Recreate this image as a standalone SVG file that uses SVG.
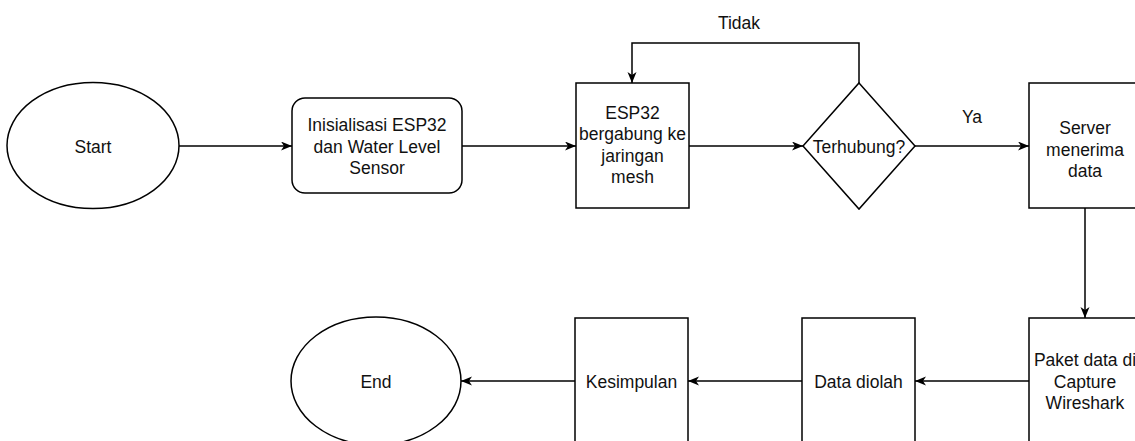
<svg xmlns="http://www.w3.org/2000/svg" width="1135" height="441" viewBox="0 0 1135 441">
  <style>
    .shape { fill: #ffffff; stroke: #000000; stroke-width: 1.5; }
    .edge { fill: none; stroke: #000000; stroke-width: 1.5; }
    .label { font-family: "Liberation Sans", Arial, sans-serif; font-size: 17.5px; fill: #111111; text-anchor: middle; }
  </style>
  <defs>
    <marker id="arrow" markerUnits="userSpaceOnUse" markerWidth="12" markerHeight="10" refX="11" refY="4.5" orient="auto">
      <path d="M0,0 L11,4.5 L0,9 L3,4.5 Z" fill="#000000"/>
    </marker>
  </defs>
  <rect width="1135" height="441" fill="#ffffff"/>

  <g id="connectors">
    <path class="edge" d="M179,146 L292,146" marker-end="url(#arrow)"/>
    <path class="edge" d="M462,146 L576,146" marker-end="url(#arrow)"/>
    <path class="edge" d="M689,146 L803,146" marker-end="url(#arrow)"/>
    <path class="edge" d="M859,83 L859,43 L632,43 L632,83" marker-end="url(#arrow)"/>
    <path class="edge" d="M915,146 L1029,146" marker-end="url(#arrow)"/>
    <path class="edge" d="M1085,208 L1085,318" marker-end="url(#arrow)"/>
    <path class="edge" d="M1029,381 L915,381" marker-end="url(#arrow)"/>
    <path class="edge" d="M802,381 L688,381" marker-end="url(#arrow)"/>
    <path class="edge" d="M575,381 L461,381" marker-end="url(#arrow)"/>
    <text class="label" x="739" y="29">Tidak</text>
    <text class="label" x="972" y="123">Ya</text>
  </g>

  <g id="start">
    <ellipse class="shape" cx="93" cy="145.5" rx="86" ry="63"/>
    <text class="label" x="93" y="152.5">Start</text>
  </g>

  <g id="init">
    <rect class="shape" x="292" y="98" width="170" height="95" rx="13" ry="13"/>
    <text class="label" x="377" y="131">Inisialisasi ESP32</text>
    <text class="label" x="377" y="152.5">dan Water Level</text>
    <text class="label" x="377" y="174">Sensor</text>
  </g>

  <g id="esp32-mesh">
    <rect class="shape" x="576" y="83" width="113" height="125"/>
    <text class="label" x="632.5" y="118.5">ESP32</text>
    <text class="label" x="632.5" y="140">bergabung ke</text>
    <text class="label" x="632.5" y="161.5">jaringan</text>
    <text class="label" x="632.5" y="183">mesh</text>
  </g>

  <g id="terhubung">
    <polygon class="shape" points="859,83 915,146 859,209 803,146"/>
    <text class="label" x="859" y="152.5">Terhubung?</text>
  </g>

  <g id="server">
    <rect class="shape" x="1029" y="83" width="113" height="125"/>
    <text class="label" x="1085" y="134">Server</text>
    <text class="label" x="1085" y="155.5">menerima</text>
    <text class="label" x="1085" y="177">data</text>
  </g>

  <g id="paket">
    <rect class="shape" x="1029" y="318" width="113" height="125"/>
    <text class="label" x="1085" y="366">Paket data di</text>
    <text class="label" x="1085" y="387.5">Capture</text>
    <text class="label" x="1085" y="409">Wireshark</text>
  </g>

  <g id="data-diolah">
    <rect class="shape" x="802" y="318" width="113" height="125"/>
    <text class="label" x="858.5" y="387.5">Data diolah</text>
  </g>

  <g id="kesimpulan">
    <rect class="shape" x="575" y="318" width="113" height="125"/>
    <text class="label" x="631.5" y="387.5">Kesimpulan</text>
  </g>

  <g id="end">
    <ellipse class="shape" cx="376" cy="381" rx="85" ry="64"/>
    <text class="label" x="376" y="388">End</text>
  </g>
</svg>
